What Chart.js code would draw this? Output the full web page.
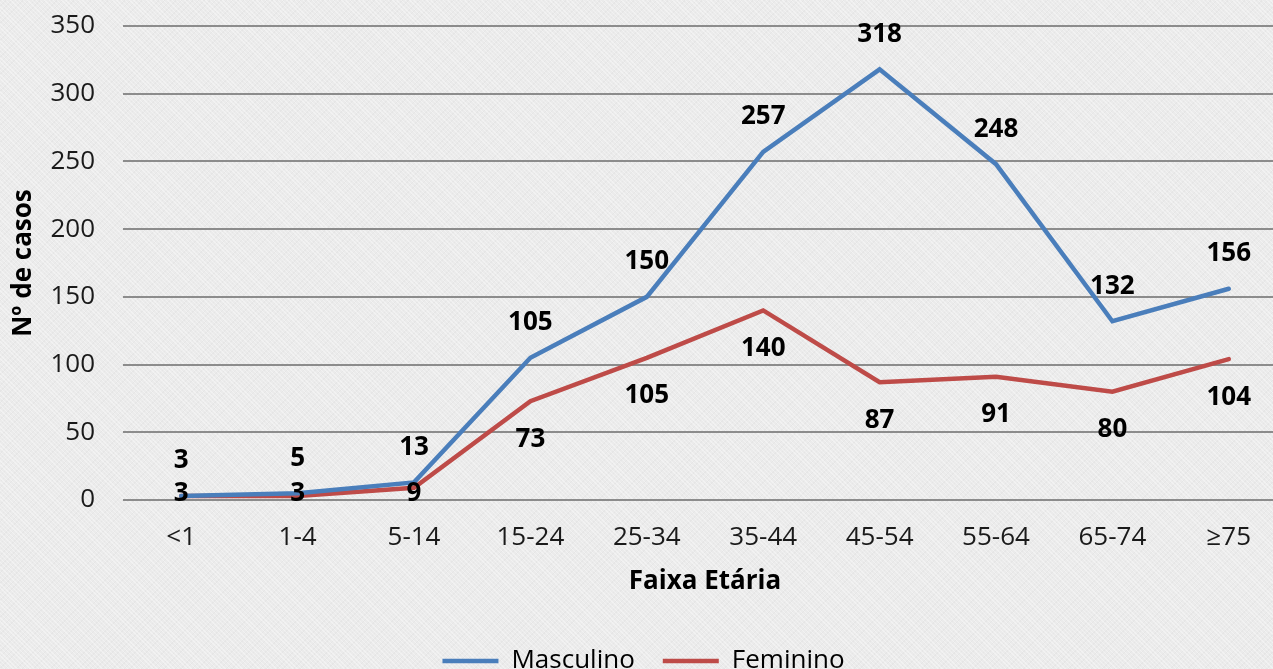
<!DOCTYPE html>
<html><head><meta charset="utf-8">
<script src="https://cdn.jsdelivr.net/npm/chart.js@4/dist/chart.umd.min.js"></script>
<style>
html,body{margin:0;padding:0;overflow:hidden;width:1273px;height:669px;
background-color:#ebebeb;
background-image:repeating-linear-gradient(45deg,rgba(255,255,255,0.35) 0 1px,transparent 1px 3px),repeating-linear-gradient(-45deg,rgba(0,0,0,0.025) 0 1px,transparent 1px 4px);}
#c{display:block;}
</style></head>
<body>
<canvas id="c" width="1300" height="669"></canvas>
<script>
const categories = ['<1','1-4','5-14','15-24','25-34','35-44','45-54','55-64','65-74','≥75'];
const masculino = [3,5,13,105,150,257,318,248,132,156];
const feminino = [3,3,9,73,105,140,87,91,80,104];
const yTicks = [0,50,100,150,200,250,300,350];

const FONT = '"Open Sans", "DejaVu Sans", sans-serif';
Chart.defaults.font.family = FONT;
Chart.defaults.color = '#1a1a1a';

const labelPlugin = {
  id: 'pointLabels',
  afterDatasetsDraw(chart) {
    const ctx = chart.ctx;
    ctx.save();
    ctx.font = 'bold 26px ' + FONT;
    ctx.fillStyle = '#000';
    ctx.textAlign = 'center';
    ctx.textBaseline = 'middle';
    chart.data.datasets.forEach((ds, di) => {
      const meta = chart.getDatasetMeta(di);
      meta.data.forEach((pt, i) => {
        let y;
        if (di === 0) y = pt.y - 35;
        else y = Math.min(pt.y + 38, chart.chartArea.bottom - 6);
        ctx.fillText(String(ds.data[i]), pt.x, y);
      });
    });
    ctx.restore();
  }
};

new Chart(document.getElementById('c'), {
  type: 'line',
  data: {
    labels: categories,
    datasets: [
      {label:'Masculino', data: masculino, borderColor:'#4a7ebb', backgroundColor:'#4a7ebb', borderWidth:4.5, borderCapStyle:'round', pointStyle:'line', pointRadius:0, tension:0, fill:false},
      {label:'Feminino', data: feminino, borderColor:'#be4b48', backgroundColor:'#be4b48', borderWidth:4.5, borderCapStyle:'round', pointStyle:'line', pointRadius:0, tension:0, fill:false}
    ]
  },
  options: {
    responsive:false, animation:false,
    layout:{padding:{top:26,right:13,left:0,bottom:-15}},
    plugins:{
      tooltip:{enabled:false},
      legend:{position:'bottom', labels:{usePointStyle:true, pointStyleWidth:56, boxHeight:26, font:{size:26}, color:'#000', padding:28}},
    },
    scales:{
      x:{
        offset:true,
        grid:{display:false, drawTicks:false},
        border:{display:false},
        ticks:{font:{size:26}, color:'#1a1a1a', padding:22, maxRotation:0},
        title:{display:true, text:'Faixa Etária', font:{size:26, weight:'bold'}, color:'#000', padding:{top:10,bottom:23}},
        afterFit(s){ s.height = 120; s.paddingLeft = 0; s.paddingRight = 0; }
      },
      y:{
        min:0, max:350,
        afterBuildTicks(s){ s.ticks = yTicks.map(v=>({value:v})); },
        grid:{color:'#8c8c8c', lineWidth:2, drawTicks:false},
        border:{display:false},
        ticks:{font:{size:26}, color:'#1a1a1a', padding:28},
        title:{display:true, text:'Nº de casos', font:{size:26, weight:'bold'}, color:'#000', padding:{top:8,bottom:0}},
        afterFit(s){ s.width = 123; s.paddingTop = 0; s.paddingBottom = 0; }
      }
    }
  },
  plugins:[labelPlugin]
});
</script>
</body></html>
